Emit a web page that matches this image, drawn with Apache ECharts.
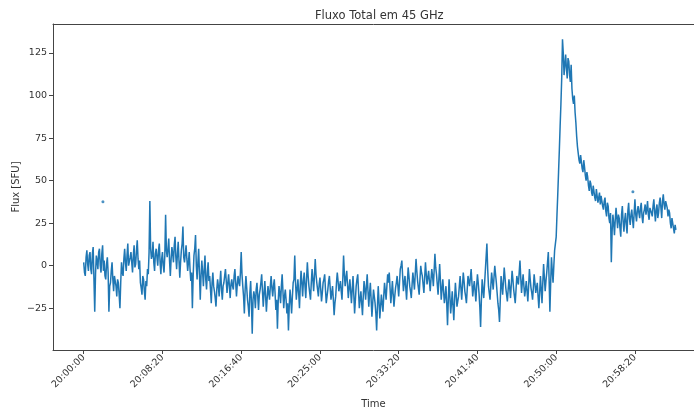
<!DOCTYPE html>
<html>
<head>
<meta charset="utf-8">
<script src="https://cdn.jsdelivr.net/npm/echarts@6/dist/echarts.min.js"></script>
<style>
  html, body { margin: 0; padding: 0; background: #fff; }
  #chart { width: 694px; height: 407px; }
</style>
</head>
<body>
<div id="chart"></div>
<script>
// samples every 5 s starting at 20:00:00; the "full" arrays hold the :x0 samples,
// the "half" arrays the :x5 samples in between
const stepSeconds = 10;

// quiet part, 20:00:00 .. 20:49:50 (10 per row)
const fluxQuiet = [
    2, -6, 9, -3, 8, -5, 11, -27, 6, -2,
    10, -4, 12, 3, -8, 5, -27, -10, 2, -15,
    -5, -18, -10, -25, 2, -6, 10, -3, 13, 0,
    8, -4, 12, 1, 15, -2, -10, -17, -8, -20,
    -12, -5, 38, 4, 14, -3, 10, 0, 13, -5,
    8, -4, 30, 5, 16, -6, 11, 2, 17, -2,
    14, -7, 9, 23, 2, 12, -3, 8, -9, -25,
    6, 18, -8, 10, -20, 3, -12, 6, -14, 2,
    -6, -22, -4, -15, -24, -8, -18, -3, -20, -10,
    -2, -16, -5, -19, -8, -14, -2, -18, -6, -12,
    8, -12, -28, -6, -20, -30, -9, -40, -15, -25,
    -10, -26, -14, -5, -24, -9, -27, -12, -20, -6,
    -18, -8, -26, -37, -12, -22, -5, -25, -14, -28,
    -38, -14, -28, -10, 6, -20, -8, -25, -3, -18,
    -4, -19, 2, -12, -20, -2, -15, 4, -10, -18,
    -7, -21, -10, -5, -22, -14, -6, -20, -12, -29,
    -18, -4, -15, -9, -20, 6, -12, -3, -19, -8,
    -22, -6, -28, -12, -5, -25, -15, -29, -9, -20,
    -5, -24, -10, -30, -14, -22, -38, -12, -31, -17,
    -27, -10, -20, -5, -4, -22, -9, -24, -13, -6,
    -18, -2, 3, -15, -6, -20, -1, -12, -19, -4,
    -14, 4, -9, -17, 0, -6, -16, 2, -11, -3,
    -15, -2, -12, 7, -5, -17, 1, -20, -8, -22,
    -12, -35, -8, -28, -15, -32, -10, -24, -18, -6,
    -20, -4, -15, -22, -6, -12, -2, -18, -9, -21,
    -5, -16, -36, -8, -19, -3, 13, -12, -20, -4,
    -14, 0, -10, -22, -33, -6, -17, -1, -13, -21,
    -8, -19, -3, -14, -22, -6, -11, 3, -16, -5,
    -18, -9, -21, -2, -13, -20, -5, -16, -10, -25,
    -6, -22, 1, -15, -4, 8, -27, 5, -10, 9
];
const fluxQuietHalf = [
    -4, 5, 1, 6, -2, 7, -8, -5, 3, 8,
    0, 7, -3, -6, 1, -4, -12, -3, -8, -6,
    -12, -8, -17, -10, -4, 4, 2, 6, 0, 5,
    2, 6, -1, 9, 4, 3, -13, -6, -15, -9,
    -2, 8, 10, 6, 2, 7, 5, 9, 2, 4,
    0, 6, 9, 10, 3, 4, 7, 12, 5, 7,
    3, 2, 13, 5, 7, 4, 2, -2, -4, -6,
    10, 0, 2, -5, -6, -4, -2, -8, -4, -9,
    -14, -10, -12, -19, -14, -12, -10, -14, -12, -6,
    -9, -10, -12, -11, -12, -6, -10, -11, -10, -4,
    -5, -18, -14, -13, -24, -16, -22, -20, -18, -14,
    -18, -17, -10, -15, -16, -18, -19, -16, -12, -13,
    -12, -16, -20, -21, -16, -12, -15, -18, -20, -22,
    -24, -20, -18, -8, -10, -14, -16, -12, -10, -9,
    -12, -8, -6, -16, -10, -8, -6, -5, -14, -11,
    -14, -16, -8, -14, -18, -9, -13, -16, -20, -22,
    -10, -9, -12, -15, -8, -5, -7, -11, -13, -15,
    -14, -17, -20, -8, -15, -20, -22, -18, -14, -12,
    -15, -16, -20, -22, -18, -28, -24, -21, -24, -22,
    -18, -15, -12, -10, -13, -16, -17, -18, -10, -12,
    -10, 0, -6, -10, -13, -10, -6, -15, -11, -9,
    -5, -3, -13, -8, -4, -11, -7, -5, -7, -9,
    -8, -6, -3, -1, -11, -8, -9, -14, -15, -18,
    -22, -20, -18, -22, -24, -20, -17, -21, -12, -13,
    -12, -9, -18, -14, -9, -7, -10, -13, -15, -12,
    -10, -24, -20, -14, -11, -4, -2, -16, -12, -9,
    -7, -5, -16, -26, -20, -11, -9, -7, -17, -14,
    -13, -11, -8, -18, -14, -9, -4, -7, -10, -12,
    -14, -15, -12, -8, -16, -13, -10, -13, -18, -16,
    -14, -10, -7, -9, 2, -8, -10, -3, 0, 13
];

// flare, 20:50:00 .. 21:02:40
const fluxFlare = [
    17, 42, 68, 95, 133, 112, 124, 110, 120, 108,
    104, 95, 90, 76, 66, 60, 64, 55, 58, 50,
    52, 44, 48, 41, 46, 38, 44, 40, 36, 42,
    33, 40, 29, 35, 25, 2, 30, 18, 34, 22,
    28, 17, 35, 20, 31, 19, 37, 24, 33, 22,
    39, 26, 35, 28, 37, 25, 33, 30, 38, 27,
    34, 29, 39, 26, 36, 31, 40, 28, 42, 33,
    38, 29, 31, 22, 27, 19, 21
];
const fluxFlareHalf = [
    30, 55, 82, 110, 125, 118, 116, 122, 112, 118,
    98, 100, 84, 70, 62, 65, 57, 62, 53, 55,
    47, 50, 43, 47, 40, 45, 37, 43, 41, 35,
    38, 32, 37, 28, 31, 20, 25, 27, 28, 30,
    22, 30, 26, 27, 24, 32, 28, 30, 27, 31,
    30, 32, 31, 34, 29, 31, 36, 33, 30, 34,
    31, 35, 32, 33, 28, 37, 34, 38, 36, 38,
    34, 33, 25, 28, 22, 24
];

// lone samples that show up as dots
const dotSeconds = [122, 3487];
const dotFlux = [37.6, 43.5];

const xTickSeconds = [0, 500, 1000, 1500, 2000, 2500, 3000, 3500];
const yTicks = [-25, 0, 25, 50, 75, 100, 125];

const fluxFull = fluxQuiet.concat(fluxFlare);
const fluxHalf = fluxQuietHalf.concat(fluxFlareHalf);
const lineData = [];
fluxFull.forEach((v, i) => {
    lineData.push([i * stepSeconds, v]);
    if (i < fluxHalf.length) lineData.push([i * stepSeconds + stepSeconds / 2, fluxHalf[i]]);
});
const dotData = dotSeconds.map((t, i) => [t, dotFlux[i]]);

function clock(sec) {
    const total = 20 * 3600 + sec;
    const h = Math.floor(total / 3600);
    const m = Math.floor((total % 3600) / 60);
    const s = total % 60;
    const p = n => String(n).padStart(2, '0');
    return p(h) + ':' + p(m) + ':' + p(s);
}

const textColor = '#333';
const spineColor = '#444';
const lineColor = '#1f77b4';
const fontFamily = 'DejaVu Sans';
const xMin = -195, xMax = 3875;

const chart = echarts.init(document.getElementById('chart'));
chart.setOption({
    animation: false,
    title: {
        text: 'Fluxo Total em 45 GHz',
        left: 310,
        top: 5,
        textStyle: { fontFamily: fontFamily, fontSize: 11.5, fontWeight: 'normal', color: textColor }
    },
    grid: { left: 53, right: 0, top: 24, bottom: 57, outerBoundsMode: 'none' },
    xAxis: [
        {
            type: 'value',
            min: xMin,
            max: xMax,
            name: 'Time',
            nameLocation: 'middle',
            nameGap: 49,
            nameTextStyle: { fontFamily: fontFamily, fontSize: 10, color: textColor },
            axisLine: { show: true, onZero: false, lineStyle: { color: spineColor } },
            axisTick: { show: true, length: 4, customValues: xTickSeconds, lineStyle: { color: spineColor } },
            axisLabel: {
                customValues: xTickSeconds,
                rotate: 45,
                margin: 6,
                fontFamily: fontFamily,
                fontSize: 9.5,
                color: textColor,
                formatter: v => clock(v)
            },
            splitLine: { show: false }
        },
        {
            // top spine only
            type: 'value',
            position: 'top',
            min: xMin,
            max: xMax,
            axisLine: { show: true, onZero: false, lineStyle: { color: spineColor } },
            axisTick: { show: false },
            axisLabel: { show: false },
            splitLine: { show: false }
        }
    ],
    yAxis: {
        type: 'value',
        min: -49.5,
        max: 142,
        name: 'Flux [SFU]',
        nameLocation: 'middle',
        nameGap: 32,
        nameMoveOverlap: false,
        nameTextStyle: { fontFamily: fontFamily, fontSize: 10, color: textColor },
        axisLine: { show: true, onZero: false, lineStyle: { color: spineColor } },
        axisTick: { show: true, length: 4, customValues: yTicks, lineStyle: { color: spineColor } },
        axisLabel: {
            customValues: yTicks,
            margin: 6,
            fontFamily: fontFamily,
            fontSize: 9.5,
            color: textColor,
            formatter: v => (v < 0 ? '\u2212' + Math.abs(v) : String(v))
        },
        splitLine: { show: false }
    },
    series: [
        {
            type: 'line',
            data: lineData,
            showSymbol: false,
            lineStyle: { color: lineColor, width: 1.5 },
            itemStyle: { color: lineColor }
        },
        {
            type: 'scatter',
            data: dotData,
            symbolSize: 3,
            itemStyle: { color: lineColor }
        }
    ]
});
</script>
</body>
</html>
